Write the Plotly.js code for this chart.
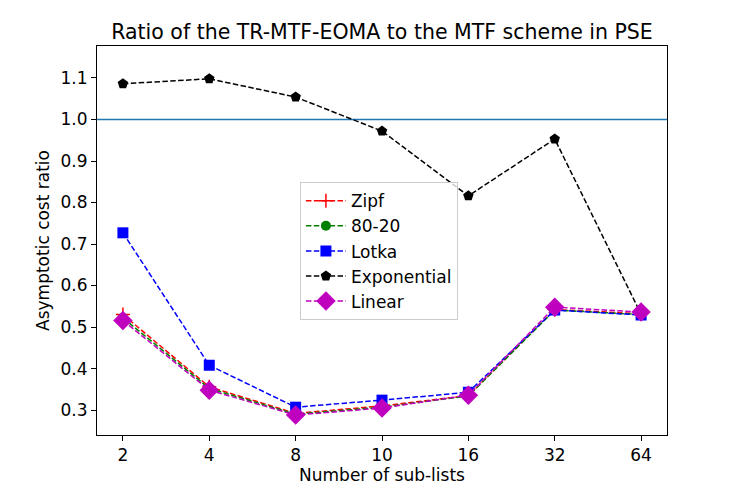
<!DOCTYPE html>
<html><head><meta charset="utf-8">
<script src="https://cdn.plot.ly/plotly-3.0.1.min.js"></script>
<style>body{margin:0;padding:0;background:#fff}</style>
</head><body>
<div id="chart" style="width:735px;height:491px"></div>
<script>
const categories = ["2","4","8","10","16","32","64"];
const zipf        = [0.530, 0.356, 0.292, 0.310, 0.335, 0.542, 0.532];
const eighty20    = [0.522, 0.352, 0.290, 0.307, 0.334, 0.541, 0.530];
const lotka       = [0.727, 0.408, 0.307, 0.324, 0.343, 0.541, 0.529];
const exponential = [1.086, 1.098, 1.054, 0.972, 0.816, 0.953, 0.531];
const linear      = [0.516, 0.348, 0.288, 0.305, 0.336, 0.548, 0.536];
const refLevel = 1.0;

const dash = "5.5px,2.4px";
const xIdx = categories.map((c,i)=>i);
function tr(name, y, color, symbol, size){
  return {x:xIdx, y:y, name:name, type:"scatter", mode:"lines+markers",
    line:{color:color, width:1.5, dash:dash},
    marker:{color:color, symbol:symbol, size:size, line:{width:0}}};
}
const data = [
  tr("Zipf", zipf, "red", "cross-thin-open", 10),
  tr("80-20", eighty20, "green", "circle", 10),
  tr("Lotka", lotka, "blue", "square", 11),
  tr("Exponential", exponential, "black", "pentagon", 11),
  tr("Linear", linear, "#bf00bf", "diamond", 15)
];
data[0].marker.line = {color:"red", width:1.5};

const layout = {
  width:735, height:491,
  margin:{l:97, r:68, t:46, b:56},
  paper_bgcolor:"#fff", plot_bgcolor:"#fff",
  font:{family:"DejaVu Sans", size:17, color:"#000"},
  title:{text:"Ratio of the TR-MTF-EOMA to the MTF scheme in PSE", font:{size:20.5}, x:0.5, xref:"paper", y:1, yref:"paper", yanchor:"bottom", pad:{b:7}},
  showlegend:true,
  legend:{x:0.356, y:0.650, xanchor:"left", yanchor:"top", bordercolor:"#cccccc", borderwidth:1, bgcolor:"rgba(255,255,255,0.8)", font:{size:17}, tracegroupgap:0, itemwidth:40},
  xaxis:{range:[-0.3,6.3], tickmode:"array", tickvals:xIdx, ticktext:categories,
    showgrid:false, zeroline:false, showline:true, mirror:true, linecolor:"#000", linewidth:1,
    ticks:"outside", ticklen:5, tickcolor:"#000",
    title:{text:"Number of sub-lists", font:{size:17}, standoff:4}},
  yaxis:{range:[0.240,1.177], tickmode:"array", tickvals:[0.3,0.4,0.5,0.6,0.7,0.8,0.9,1.0,1.1],
    ticktext:["0.3","0.4","0.5","0.6","0.7","0.8","0.9","1.0","1.1"],
    showgrid:false, zeroline:false, showline:true, mirror:true, linecolor:"#000", linewidth:1,
    ticks:"outside", ticklen:5, tickcolor:"#000",
    title:{text:"Asymptotic cost ratio", font:{size:17}, standoff:6}},
  shapes:[{type:"line", xref:"paper", x0:0, x1:1, yref:"y", y0:refLevel, y1:refLevel, line:{color:"#1f77b4", width:1.5}, layer:"below"}]
};
Plotly.newPlot("chart", data, layout, {displayModeBar:false, staticPlot:true});
</script>
</body></html>
